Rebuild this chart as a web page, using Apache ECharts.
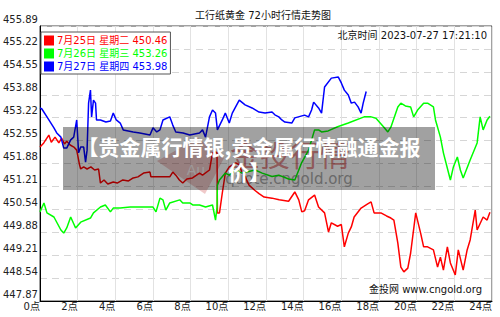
<!DOCTYPE html>
<html><head><meta charset="utf-8">
<script src="https://cdn.jsdelivr.net/npm/echarts@6/dist/echarts.min.js"></script>
<style>html,body{margin:0;padding:0;background:#fff}#c{width:500px;height:317px}</style>
</head><body><div id="c"></div>
<script>
const FONT = "'DejaVu Sans','Noto Sans CJK SC',sans-serif";
const CJK = "'Noto Sans CJK SC','DejaVu Sans',sans-serif";

const titleText = '工行纸黄金 72小时行情走势图';
const timeText = '北京时间 2023-07-27 17:21:10';
const sourceText = '金投网 www.cngold.org';
const bannerText = '【贵金属行情银,贵金属行情融通金报\n价】';

const seriesNames = ['7月25日 星期二', '7月26日 星期三', '7月27日 星期四'];
const seriesColors = ['#ff0000', '#00ff00', '#0000ff'];

const yTicks = [447.87, 448.54, 449.21, 449.88, 450.54, 451.21, 451.88, 452.55, 453.22, 453.88, 454.55, 455.22, 455.89];

// [hour, price]
const red25 = [
[0,452.36],[0.2,452.48],[0.47,452.71],[0.6,452.5],[0.8,452.65],[1.0,452.48],[1.15,452.62],[1.3,452.45],[1.42,452.53],[1.6,452.42],[1.8,452.36],[1.95,452.27],[2.1,451.84],[2.16,451.72],[2.32,451.78],[2.5,451.72],[2.7,451.78],[2.9,451.69],[3.11,451.72],[3.21,451.31],[3.4,451.4],[3.6,451.28],[3.89,451.34],[4.1,451.31],[4.4,451.4],[4.7,451.37],[4.95,451.46],[5.2,451.49],[5.5,451.6],[5.84,451.63],[5.89,451.49],[6.89,451.49],[7.05,451.63],[7.21,451.54],[7.4,451.4],[7.58,451.31],[7.8,451.43],[8.1,451.46],[8.47,451.6],[8.63,451.54],[9.0,451.69],[9.16,452.19],[9.32,452.22],[9.40,452.19],[9.42,450.44],[9.53,450.44],[9.68,451.02],[9.84,451.6],[10.05,451.78],[10.4,451.9],[10.58,451.84],[10.74,451.6],[10.89,451.5],[11.1,451.25],[11.4,451.1],[11.63,451.0],[11.9,450.9],[12.32,450.87],[12.7,450.82],[13.2,450.78],[13.53,451.05],[13.74,450.82],[13.9,450.47],[14.05,450.5],[14.26,450.82],[14.58,450.96],[14.79,450.61],[15.11,450.44],[15.32,449.88],[15.47,450.15],[15.8,450.05],[16.0,450.1],[16.16,449.45],[16.37,449.85],[16.53,450.03],[16.68,450.32],[17.05,450.58],[17.4,450.7],[17.58,450.76],[17.74,450.44],[18.1,450.44],[18.4,450.35],[18.63,450.29],[18.79,450.23],[19.0,449.56],[19.16,448.86],[19.32,448.72],[19.53,448.83],[19.68,449.27],[19.95,450.44],[20.21,449.85],[20.37,449.45],[20.58,449.45],[20.89,449.36],[21.11,448.86],[21.26,449.15],[21.42,448.77],[21.63,449.45],[21.79,448.98],[22.05,448.63],[22.21,449.36],[22.47,448.77],[22.68,449.36],[22.84,449.65],[23.11,450.52],[23.21,449.94],[23.53,450.32],[23.74,450.23],[23.89,450.46]
];
const green26 = [
[0,450.47],[0.21,450.73],[0.37,450.44],[0.74,450.32],[1.11,449.94],[1.26,449.85],[1.42,450.0],[1.63,450.32],[1.89,450.0],[2.16,450.17],[2.68,450.29],[2.84,450.44],[3.21,450.61],[3.47,450.67],[3.74,450.47],[3.89,450.58],[4.26,450.58],[4.79,450.61],[6.0,450.61],[6.16,450.47],[6.37,450.87],[6.53,450.82],[6.68,450.52],[6.89,450.73],[7.42,450.82],[7.58,450.73],[7.95,450.73],[8.11,450.67],[8.47,450.67],[8.79,450.61],[9.16,450.67],[9.32,450.23],[9.40,450.61],[9.42,451.25],[9.53,451.4],[9.84,451.6],[10.05,451.54],[10.37,451.69],[10.74,451.6],[11.42,451.69],[11.8,451.6],[12.32,451.5],[12.68,451.54],[13.2,451.43],[13.53,451.4],[13.74,451.69],[13.89,451.9],[14.26,452.27],[14.58,452.86],[14.79,452.86],[14.95,452.8],[15.3,452.83],[15.8,452.95],[16.37,453.06],[17.21,453.24],[17.58,453.24],[17.84,453.2],[18.26,452.94],[18.47,452.8],[18.63,452.94],[19.0,453.53],[19.16,453.64],[19.4,453.56],[19.68,453.53],[19.84,453.24],[20.05,453.44],[20.37,453.64],[20.58,453.64],[20.89,453.53],[21.0,453.15],[21.26,452.65],[21.42,452.19],[21.79,451.4],[21.95,451.78],[22.16,452.07],[22.32,451.69],[22.47,451.46],[22.84,451.98],[23.21,452.48],[23.37,453.24],[23.53,452.86],[23.74,453.15],[23.89,453.26]
];
const blue27 = [
[0,453.5],[0.1,453.47],[0.37,453.24],[0.74,452.92],[0.89,452.77],[1.11,452.65],[1.26,452.33],[1.42,452.33],[1.63,452.57],[1.79,452.65],[1.95,453.15],[2.05,452.19],[2.16,452.36],[2.32,452.36],[2.42,451.92],[2.5,452.27],[2.58,453.64],[2.68,454.02],[2.74,453.24],[2.84,453.73],[2.95,453.64],[3.0,453.15],[3.21,453.15],[3.5,453.09],[3.74,453.12],[3.89,453.35],[4.05,453.15],[4.26,453.06],[4.42,452.86],[4.95,452.8],[5.3,452.77],[5.84,452.71],[6.0,452.92],[6.2,452.8],[6.37,452.86],[6.53,453.15],[6.89,453.24],[7.05,453.0],[7.21,452.8],[7.6,452.77],[7.95,452.71],[8.47,452.77],[8.63,452.86],[8.79,452.65],[9.0,453.24],[9.16,453.44],[9.32,453.35],[9.42,452.86],[9.68,453.15],[9.84,453.35],[10.05,453.06],[10.21,453.35],[10.58,453.73],[10.89,453.59],[11.26,453.5],[11.63,453.38],[11.95,453.35],[12.32,453.38],[12.47,453.3],[12.68,453.24],[12.84,453.15],[13.0,453.09],[13.37,453.06],[13.53,453.21],[14.05,453.29],[14.26,453.24],[14.42,453.44],[14.53,453.67],[14.79,453.5],[14.95,453.35],[15.11,454.11],[15.47,454.37],[15.84,454.4],[16.0,454.23],[16.16,454.02],[16.37,453.88],[16.53,453.64],[16.7,453.67],[16.89,453.53],[17.05,453.35],[17.16,453.64],[17.32,453.98]
];
const seriesData = [red25, green26, blue27];
const lastPrice = seriesData.map(d => d[d.length - 1][1].toFixed(2));

const chart = echarts.init(document.getElementById('c'), null, {renderer: 'svg'});
chart.setOption({
  animation: false,
  backgroundColor: '#fff',
  grid: {left: 36, right: 8, top: 26, bottom: 16, show: true, borderColor: '#444', borderWidth: 1},
  xAxis: {
    type: 'value', min: 0, max: 24, interval: 2,
    axisLine: {show: true, lineStyle: {color: '#000', width: 1}},
    axisTick: {show: false},
    axisLabel: {formatter: v => v + '点', align: 'right', margin: 0, fontSize: 10, color: '#222', fontFamily: FONT},
    splitLine: {show: true, lineStyle: {color: '#e2e2e2', width: 1}}
  },
  yAxis: {
    type: 'value', min: yTicks[0], max: yTicks[yTicks.length - 1],
    axisLine: {show: true, lineStyle: {color: '#000', width: 1}},
    axisTick: {show: false, customValues: yTicks},
    axisLabel: {customValues: yTicks, formatter: v => v.toFixed(2), margin: 2, fontSize: 10, color: '#222',
      fontFamily: FONT, verticalAlign: 'bottom', lineHeight: 14},
    splitLine: {show: true, lineStyle: {color: '#d6d6d6', width: 1, type: [7, 5]}}
  },
  legend: {
    orient: 'vertical', left: 41, top: 32, icon: 'rect', itemWidth: 10, itemHeight: 10, itemGap: 2,
    padding: [3, 3, 2, 3], backgroundColor: '#fff', borderColor: '#555', borderWidth: 1, selectedMode: false,
    data: seriesNames.map((n, i) => ({name: n, textStyle: {color: seriesColors[i]}})),
    formatter: name => name + ' ' + lastPrice[seriesNames.indexOf(name)],
    textStyle: {fontSize: 10, lineHeight: 11, fontFamily: FONT, padding: [0, 0, 0, -2]}
  },
  graphic: [
    {type: 'polygon', z: 1, silent: true, shape: {points: [[157, 161], [198, 138], [224, 158], [205, 194]]},
      style: {fill: 'rgba(200,60,60,0.28)'}},
    {type: 'text', z: 1, silent: true, x: 196, y: 170,
      style: {text: 'Au', fill: 'rgba(255,255,255,0.8)', font: '14px ' + FONT, align: 'center', verticalAlign: 'middle', textAlign: 'center', textVerticalAlign: 'middle'}},
    {type: 'text', z: 1, silent: true, x: 290, y: 153,
      style: {text: '金投行情', fill: 'rgba(189,0,0,0.45)', font: '30px ' + CJK, align: 'center', verticalAlign: 'middle', textAlign: 'center', textVerticalAlign: 'middle'}},
    {type: 'text', z: 1, silent: true, x: 289, y: 179,
      style: {text: 'quote.cngold.org', fill: '#a8a8a8', font: '15px ' + FONT, align: 'center', verticalAlign: 'middle', textAlign: 'center', textVerticalAlign: 'middle'}},
    {type: 'text', z: 5, silent: true, x: 263, y: 15,
      style: {text: titleText, fill: '#111', font: '10px ' + FONT, align: 'center', verticalAlign: 'middle', textAlign: 'center', textVerticalAlign: 'middle'}},
    {type: 'text', z: 5, silent: true, x: 487, y: 35,
      style: {text: timeText, fill: '#111', font: '10px ' + FONT, align: 'right', verticalAlign: 'middle', textAlign: 'right', textVerticalAlign: 'middle'}},
    {type: 'text', z: 5, silent: true, x: 482, y: 289,
      style: {text: sourceText, fill: '#111', font: '10px ' + FONT, align: 'right', verticalAlign: 'middle', textAlign: 'right', textVerticalAlign: 'middle'}},
    {type: 'rect', z: 100, silent: true, shape: {x: 63, y: 127, width: 372, height: 63},
      style: {fill: 'rgba(0,0,0,0.37)'}},
    {type: 'text', z: 101, silent: true, x: 249, y: 158,
      style: {text: bannerText, fill: '#fff', font: 'bold 21px ' + CJK, lineHeight: 25, align: 'center', verticalAlign: 'middle', textAlign: 'center', textVerticalAlign: 'middle'}}
  ],
  series: seriesData.map((d, i) => ({
    type: 'line', name: seriesNames[i], data: d, symbol: 'none', showSymbol: false, z: 2,
    color: seriesColors[i],
    lineStyle: {width: 1.5, color: seriesColors[i]},
    itemStyle: {color: seriesColors[i]}
  }))
});
</script></body></html>
